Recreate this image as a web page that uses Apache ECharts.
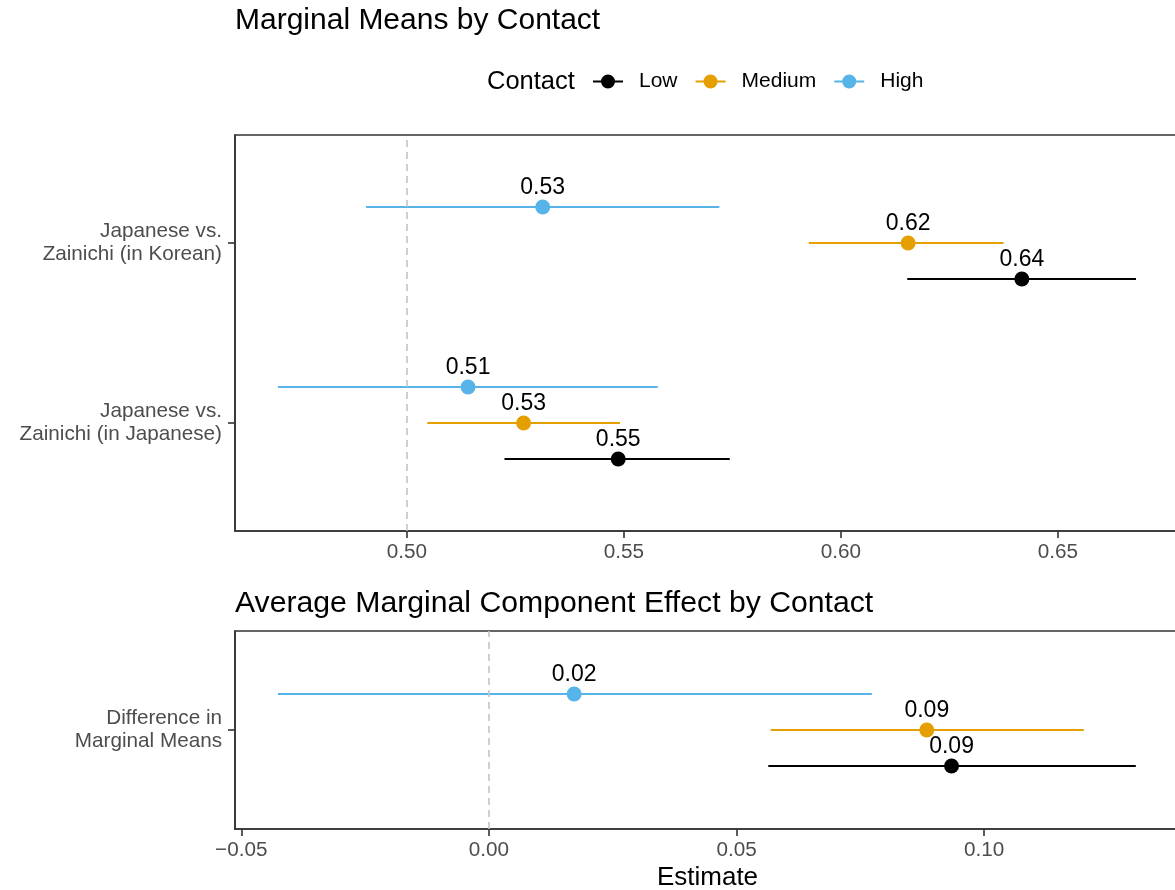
<!DOCTYPE html>
<html>
<head>
<meta charset="utf-8">
<script src="https://cdn.jsdelivr.net/npm/echarts@6/dist/echarts.min.js"></script>
<style>
  html, body { margin: 0; padding: 0; background: #fff; overflow: hidden; }
  #chart { width: 1175px; height: 890px; }
</style>
</head>
<body>
<div id="chart"></div>
<script>
// Contact levels (legend order) and their colours
const contactLevels = ['Low', 'Medium', 'High'];
const contactColors = ['#000000', '#E69F00', '#56B4E9'];

// Marginal means panel: categories listed bottom to top
const mmCategories = ['Japanese vs.\nZainichi (in Japanese)', 'Japanese vs.\nZainichi (in Korean)'];
const mmEstimate = {
  Low:    [0.5487, 0.6417],
  Medium: [0.5269, 0.6155],
  High:   [0.5141, 0.5313]
};
const mmLower = {
  Low:    [0.5225, 0.6153],
  Medium: [0.5047, 0.5926],
  High:   [0.4703, 0.4906]
};
const mmUpper = {
  Low:    [0.5744, 0.6680],
  Medium: [0.5491, 0.6375],
  High:   [0.5578, 0.5720]
};
const mmTicks = [0.50, 0.55, 0.60, 0.65];

// AMCE panel
const amceCategories = ['Difference in\nMarginal Means'];
const amceEstimate = { Low: [0.0934], Medium: [0.0884], High: [0.0172] };
const amceLower    = { Low: [0.0564], Medium: [0.0569], High: [-0.0426] };
const amceUpper    = { Low: [0.1306], Medium: [0.1201], High: [0.0773] };
const amceTicks = [-0.05, 0.00, 0.05, 0.10];

const FONT = 'Liberation Sans, Arial, Helvetica, sans-serif';
const dodge = { Low: -0.2, Medium: 0, High: 0.2 };

function fmtTick(v) {
  const s = Math.abs(v).toFixed(2);
  return v < -1e-9 ? '\u2212' + s : s;
}

function panelSeries(gridIdx, cats, est, lo, hi, refValue) {
  const out = [];
  // dashed reference line
  out.push({
    type: 'line', name: 'ref' + gridIdx, xAxisIndex: gridIdx, yAxisIndex: gridIdx,
    data: [], silent: true, z: 1,
    markLine: {
      silent: true, symbol: 'none', label: { show: false },
      lineStyle: { color: '#c4c4c4', type: [7, 5], width: 1.6 },
      emphasis: { disabled: true },
      data: [{ xAxis: refValue }]
    }
  });
  contactLevels.forEach((lvl, k) => {
    const color = contactColors[k];
    const bars = cats.map((c, i) => [lo[lvl][i], hi[lvl][i], i + 1 + dodge[lvl]]);
    const pts = cats.map((c, i) => [est[lvl][i], i + 1 + dodge[lvl]]);
    out.push({
      type: 'custom', name: lvl, xAxisIndex: gridIdx, yAxisIndex: gridIdx, z: 2,
      itemStyle: { color: color },
      encode: { x: [0, 1], y: 2 },
      data: bars,
      renderItem: function (params, api) {
        const a = api.coord([api.value(0), api.value(2)]);
        const b = api.coord([api.value(1), api.value(2)]);
        return {
          type: 'line',
          shape: { x1: a[0], y1: a[1], x2: b[0], y2: b[1] },
          style: { stroke: color, lineWidth: 2 }
        };
      }
    });
    out.push({
      type: 'scatter', name: lvl, xAxisIndex: gridIdx, yAxisIndex: gridIdx, z: 3,
      symbol: 'circle', symbolSize: 15,
      itemStyle: { color: color, opacity: 1 },
      data: pts,
      label: {
        show: true, position: 'top', distance: 0,
        formatter: p => p.value[0].toFixed(2),
        color: '#000', fontSize: 23, fontFamily: FONT, lineHeight: 23
      }
    });
  });
  return out;
}

const axisColor = '#333333';
const labelColor = '#4d4d4d';

function xAxisDef(gridIdx, min, max, ticks, withName) {
  const def = {
    type: 'value', gridIndex: gridIdx, min: min, max: max,
    axisLine: { show: true, onZero: false, lineStyle: { color: axisColor, width: 1.6 } },
    axisTick: { show: true, length: 7, customValues: ticks, lineStyle: { color: axisColor, width: 1.6 } },
    axisLabel: {
      customValues: ticks, formatter: fmtTick, margin: 11,
      color: labelColor, fontSize: 20.7, fontFamily: FONT
    },
    splitLine: { show: false }
  };
  if (withName) {
    def.name = 'Estimate';
    def.nameLocation = 'middle';
    def.nameGap = 36;
    def.nameTextStyle = { color: '#000', fontSize: 26, fontFamily: FONT, lineHeight: 26 };
  }
  return def;
}

function yAxisDef(gridIdx, min, max, cats) {
  const vals = cats.map((c, i) => i + 1);
  return {
    type: 'value', gridIndex: gridIdx, min: min, max: max,
    axisLine: { show: true, onZero: false, lineStyle: { color: axisColor, width: 1.6 } },
    axisTick: { show: true, length: 7, customValues: vals, lineStyle: { color: axisColor, width: 1.6 } },
    axisLabel: {
      customValues: vals,
      formatter: v => cats[Math.round(v) - 1] || '',
      margin: 13, color: labelColor, fontSize: 20.7, fontFamily: FONT,
      lineHeight: 23, align: 'right'
    },
    splitLine: { show: false }
  };
}

const legendIcon = 'path://M0,6.1 L30,6.1 L30,7.9 L0,7.9 Z M8,7 A7,7 0 1 1 22,7 A7,7 0 1 1 8,7 Z';

const gridBase = {
  left: 235, width: 945, show: true, borderColor: axisColor, borderWidth: 1.6,
  backgroundColor: 'transparent', containLabel: false, outerBoundsMode: 'none'
};

const option = {
  animation: false,
  backgroundColor: '#ffffff',
  textStyle: { fontFamily: FONT },
  title: [
    { text: 'Marginal Means by Contact', left: 235, top: 6, padding: 0,
      textStyle: { fontSize: 30, fontWeight: 'normal', color: '#000', fontFamily: FONT } },
    { text: 'Average Marginal Component Effect by Contact', left: 235, top: 589, padding: 0,
      textStyle: { fontSize: 30.2, fontWeight: 'normal', color: '#000', fontFamily: FONT } }
  ],
  legend: {
    data: contactLevels.map(n => ({ name: n, icon: legendIcon })),
    left: 593, top: 71, orient: 'horizontal', padding: 0,
    itemWidth: 30, itemHeight: 14, itemGap: 18,
    selectedMode: false,
    textStyle: { color: '#000', fontSize: 21, fontFamily: FONT, padding: [0, 0, 0, 11] }
  },
  graphic: [
    { type: 'text', left: 487, top: 69,
      style: { text: 'Contact', fontSize: 25.5, fill: '#000', fontFamily: FONT } }
  ],
  grid: [
    Object.assign({ top: 135, height: 396 }, gridBase),
    Object.assign({ top: 631, height: 198 }, gridBase)
  ],
  xAxis: [
    xAxisDef(0, 0.4604, 0.4604 + 945 / 4340, mmTicks, false),
    xAxisDef(1, -0.05127, -0.05127 + 945 / 4953, amceTicks, true)
  ],
  yAxis: [
    yAxisDef(0, 0.4, 2.6, mmCategories),
    yAxisDef(1, 0.45, 1.55, amceCategories)
  ],
  series: [].concat(
    panelSeries(0, mmCategories, mmEstimate, mmLower, mmUpper, 0.5),
    panelSeries(1, amceCategories, amceEstimate, amceLower, amceUpper, 0)
  )
};

const chart = echarts.init(document.getElementById('chart'), null, { renderer: 'canvas' });
chart.setOption(option);
</script>
</body>
</html>
